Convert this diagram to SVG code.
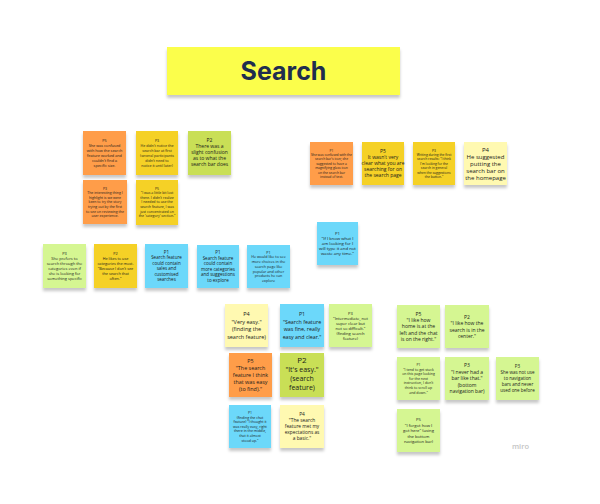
<svg xmlns="http://www.w3.org/2000/svg" width="600" height="504" viewBox="0 0 600 504">
<defs>
<filter id="sh" x="-20%" y="-20%" width="140%" height="160%">
<feDropShadow dx="0" dy="3" stdDeviation="1.6" flood-color="#000" flood-opacity="0.22"/>
</filter>
</defs>
<style>
text{font-family:"Open Sans","Liberation Sans",sans-serif;fill:#1a1a1a;text-anchor:middle}
.or{fill:#FF9D48}.ye{fill:#F5D128}.gr{fill:#C9DF56}.lg{fill:#D5F692}.bl{fill:#6CD8FA}.ly{fill:#FFF9B1}
.note rect{filter:url(#sh)}
</style>
<rect width="600" height="504" fill="#ffffff"/>
<g id="title">
<rect x="167" y="47" width="233" height="48" fill="#FBFE4C" filter="url(#sh)"/>
<text x="283.5" y="80" style="font-family:Inter,'Open Sans',sans-serif;font-weight:700;font-size:25px;fill:#1F2D4F">Search</text>
</g>
<g id="connectors"></g>

<g id="nA" class="note"><rect class="or" x="83" y="131" width="43" height="44"/>
<text font-size="3.8" x="104.5" y="141.5"><tspan x="104.5">P5</tspan><tspan x="104.5" dy="5">She was confused</tspan><tspan x="104.5" dy="5">with how the search</tspan><tspan x="104.5" dy="5">feature worked and</tspan><tspan x="104.5" dy="5">couldn't find a</tspan><tspan x="104.5" dy="5">specific size.</tspan></text></g>

<g id="nB" class="note"><rect class="ye" x="136" y="131" width="42" height="44"/>
<text font-size="3.6" x="157" y="141.5"><tspan x="157">P3</tspan><tspan x="157" dy="5">He didn't notice the</tspan><tspan x="157" dy="5">search bar at first</tspan><tspan x="157" dy="5">(several participants</tspan><tspan x="157" dy="5">didn't need to</tspan><tspan x="157" dy="5">notice it until later)</tspan></text></g>

<g id="nC" class="note"><rect class="gr" x="188" y="131" width="43" height="44"/>
<text font-size="5" x="209.5" y="142"><tspan x="209.5">P2</tspan><tspan x="209.5" dy="6">There was a</tspan><tspan x="209.5" dy="6">slight confusion</tspan><tspan x="209.5" dy="6">as to what the</tspan><tspan x="209.5" dy="6">search bar does</tspan></text></g>

<g id="nD" class="note"><rect class="or" x="83" y="180" width="44" height="44"/>
<text font-size="3.5" x="105" y="189.5"><tspan x="105">P3</tspan><tspan x="105" dy="4.6">The interesting thing I</tspan><tspan x="105" dy="4.6">highlight is we were</tspan><tspan x="105" dy="4.6">keen to try the story</tspan><tspan x="105" dy="4.6">trying out by the first</tspan><tspan x="105" dy="4.6">to see on reviewing the</tspan><tspan x="105" dy="4.6">user experience.</tspan></text></g>

<g id="nE" class="note"><rect class="ye" x="136" y="180" width="42" height="45"/>
<text font-size="3.5" x="157" y="189.5"><tspan x="157">P5</tspan><tspan x="157" dy="4.6">"I was a little bit lost</tspan><tspan x="157" dy="4.6">there. I didn't realize</tspan><tspan x="157" dy="4.6">I needed to use the</tspan><tspan x="157" dy="4.6">search feature, I was</tspan><tspan x="157" dy="4.6">just concentrated on</tspan><tspan x="157" dy="4.6">the 'category' section."</tspan></text></g>

<g id="nF" class="note"><rect class="or" x="310" y="142" width="43" height="43"/>
<text font-size="3.3" x="331.5" y="151.5"><tspan x="331.5">P1</tspan><tspan x="331.5" dy="4.4">She was confused with the</tspan><tspan x="331.5" dy="4.4">search bar's icon; she</tspan><tspan x="331.5" dy="4.4">suggested to have a</tspan><tspan x="331.5" dy="4.4">magnifying glass icon</tspan><tspan x="331.5" dy="4.4">on the search bar</tspan><tspan x="331.5" dy="4.4">instead of text.</tspan></text></g>

<g id="nG" class="note"><rect class="ye" x="362" y="142" width="42" height="43"/>
<text font-size="5" x="383" y="153"><tspan x="383">P5</tspan><tspan x="383" dy="6">It wasn't very</tspan><tspan x="383" dy="6">clear what you are</tspan><tspan x="383" dy="6">searching for on</tspan><tspan x="383" dy="6">the search page</tspan></text></g>

<g id="nH" class="note"><rect class="ye" x="413" y="142" width="42" height="43"/>
<text font-size="3.3" x="434" y="151.5"><tspan x="434">P3</tspan><tspan x="434" dy="4.4">Writing during the first</tspan><tspan x="434" dy="4.4">search results: "I think</tspan><tspan x="434" dy="4.4">I'm looking for the</tspan><tspan x="434" dy="4.4">search in general</tspan><tspan x="434" dy="4.4">when the suggestions</tspan><tspan x="434" dy="4.4">the button."</tspan></text></g>

<g id="nI" class="note"><rect class="ly" x="464" y="142" width="43" height="43"/>
<text font-size="6" x="485.5" y="151.6"><tspan x="485.5">P4</tspan><tspan x="485.5" dy="7">He suggested</tspan><tspan x="485.5" dy="7">putting the</tspan><tspan x="485.5" dy="7">search bar on</tspan><tspan x="485.5" dy="7">the homepage</tspan></text></g>

<g id="nJ" class="note"><rect class="bl" x="317" y="222" width="41" height="43"/>
<text font-size="4.3" x="337.5" y="234.6"><tspan x="337.5">P1</tspan><tspan x="337.5" dy="5.2">"If I know what I</tspan><tspan x="337.5" dy="5.2">am looking for I</tspan><tspan x="337.5" dy="5.2">will type it and not</tspan><tspan x="337.5" dy="5.2">waste any time."</tspan></text></g>

<g id="nK" class="note"><rect class="lg" x="43" y="244" width="43" height="44"/>
<text font-size="4" x="64.5" y="254.9"><tspan x="64.5">P3</tspan><tspan x="64.5" dy="5">She prefers to</tspan><tspan x="64.5" dy="5">search through the</tspan><tspan x="64.5" dy="5">categories even if</tspan><tspan x="64.5" dy="5">she is looking for</tspan><tspan x="64.5" dy="5">something specific</tspan></text></g>

<g id="nL" class="note"><rect class="ye" x="94" y="244" width="43" height="44"/>
<text font-size="3.8" x="115.5" y="254.9"><tspan x="115.5">P2</tspan><tspan x="115.5" dy="5">He likes to use</tspan><tspan x="115.5" dy="5">categories the most.</tspan><tspan x="115.5" dy="5">"Because I don't see</tspan><tspan x="115.5" dy="5">the search that</tspan><tspan x="115.5" dy="5">often."</tspan></text></g>

<g id="nM" class="note"><rect class="bl" x="145" y="244" width="43" height="44"/>
<text font-size="4.5" x="166.5" y="253.8"><tspan x="166.5">P1</tspan><tspan x="166.5" dy="5.5">Search feature</tspan><tspan x="166.5" dy="5.5">could contain</tspan><tspan x="166.5" dy="5.5">sales and</tspan><tspan x="166.5" dy="5.5">customised</tspan><tspan x="166.5" dy="5.5">searches</tspan></text></g>

<g id="nN" class="note"><rect class="bl" x="197" y="245" width="42" height="43"/>
<text font-size="4.5" x="218" y="254.3"><tspan x="218">P1</tspan><tspan x="218" dy="5.5">Search feature</tspan><tspan x="218" dy="5.5">could contain</tspan><tspan x="218" dy="5.5">more categories</tspan><tspan x="218" dy="5.5">and suggestions</tspan><tspan x="218" dy="5.5">to explore</tspan></text></g>

<g id="nO" class="note"><rect class="bl" x="247" y="245" width="43" height="43"/>
<text font-size="3.7" x="268.5" y="253.7"><tspan x="268.5">P1</tspan><tspan x="268.5" dy="4.7">He would like to see</tspan><tspan x="268.5" dy="4.7">more choices in the</tspan><tspan x="268.5" dy="4.7">search page like</tspan><tspan x="268.5" dy="4.7">popular and other</tspan><tspan x="268.5" dy="4.7">products he can</tspan><tspan x="268.5" dy="4.7">explore</tspan></text></g>

<g id="nP" class="note"><rect class="ly" x="225" y="304" width="43" height="43"/>
<text font-size="5.5" x="246.5" y="316.2"><tspan x="246.5">P4</tspan><tspan x="246.5" dy="7.5">"Very easy."</tspan><tspan x="246.5" dy="7.5">(finding the</tspan><tspan x="246.5" dy="7.5">search feature)</tspan></text></g>

<g id="nQ" class="note"><rect class="bl" x="280" y="304" width="44" height="43"/>
<text font-size="5.3" x="302" y="316.2"><tspan x="302">P1</tspan><tspan x="302" dy="7.5">"Search feature</tspan><tspan x="302" dy="7.5">was fine, really</tspan><tspan x="302" dy="7.5">easy and clear."</tspan></text></g>

<g id="nR" class="note"><rect class="lg" x="329" y="304" width="43" height="43"/>
<text font-size="4.1" x="350.5" y="314.5"><tspan x="350.5">P3</tspan><tspan x="350.5" dy="5">"Intermediate, not</tspan><tspan x="350.5" dy="5">super clear but</tspan><tspan x="350.5" dy="5">not so difficult."</tspan><tspan x="350.5" dy="5">(finding search</tspan><tspan x="350.5" dy="5">feature)</tspan></text></g>

<g id="nS" class="note"><rect class="or" x="229" y="353" width="43" height="44"/>
<text font-size="5.4" x="250.5" y="362.9"><tspan x="250.5">P5</tspan><tspan x="250.5" dy="7">"The search</tspan><tspan x="250.5" dy="7">feature I think</tspan><tspan x="250.5" dy="7">that was easy</tspan><tspan x="250.5" dy="7">(to find)."</tspan></text></g>

<g id="nT" class="note"><rect class="gr" x="280" y="353" width="44" height="44"/>
<text font-size="7" x="302" y="362.8"><tspan x="302" font-size="8">P2</tspan><tspan x="302" dy="9">"It's easy."</tspan><tspan x="302" dy="9">(search</tspan><tspan x="302" dy="9">feature)</tspan></text></g>

<g id="nU" class="note"><rect class="bl" x="229" y="405" width="42" height="43"/>
<text font-size="3.5" x="250" y="414"><tspan x="250">P1</tspan><tspan x="250" dy="4.6">(finding the chat</tspan><tspan x="250" dy="4.6">feature) "I thought it</tspan><tspan x="250" dy="4.6">was really easy, right</tspan><tspan x="250" dy="4.6">there in the middle,</tspan><tspan x="250" dy="4.6">that it almost</tspan><tspan x="250" dy="4.6">stood up."</tspan></text></g>

<g id="nV" class="note"><rect class="ly" x="280" y="405" width="44" height="43"/>
<text font-size="4.8" x="302" y="416.2"><tspan x="302">P4</tspan><tspan x="302" dy="6">"The search</tspan><tspan x="302" dy="6">feature met my</tspan><tspan x="302" dy="6">expectations as</tspan><tspan x="302" dy="6">a basic."</tspan></text></g>

<g id="nW" class="note"><rect class="lg" x="397" y="305" width="43" height="43"/>
<text font-size="5" x="418.5" y="315.6"><tspan x="418.5">P5</tspan><tspan x="418.5" dy="6.3">"I like how</tspan><tspan x="418.5" dy="6.3">home is at the</tspan><tspan x="418.5" dy="6.3">left and the chat</tspan><tspan x="418.5" dy="6.3">is on the right."</tspan></text></g>

<g id="nX" class="note"><rect class="lg" x="445" y="305" width="44" height="43"/>
<text font-size="5" x="467" y="318.5"><tspan x="467">P2</tspan><tspan x="467" dy="6.5">"I like how the</tspan><tspan x="467" dy="6.5">search is in the</tspan><tspan x="467" dy="6.5">center."</tspan></text></g>

<g id="nY" class="note"><rect class="lg" x="397" y="357" width="43" height="43"/>
<text font-size="3.5" x="418.5" y="366"><tspan x="418.5">P1</tspan><tspan x="418.5" dy="4.6">"I tend to get stuck</tspan><tspan x="418.5" dy="4.6">on this page looking</tspan><tspan x="418.5" dy="4.6">for the next</tspan><tspan x="418.5" dy="4.6">instruction, I don't</tspan><tspan x="418.5" dy="4.6">think to scroll up</tspan><tspan x="418.5" dy="4.6">and down."</tspan></text></g>

<g id="nZ" class="note"><rect class="lg" x="445" y="357" width="44" height="43"/>
<text font-size="5" x="467" y="367.2"><tspan x="467">P3</tspan><tspan x="467" dy="6.5">"I never had a</tspan><tspan x="467" dy="6.5">bar like that."</tspan><tspan x="467" dy="6.5">(bottom</tspan><tspan x="467" dy="6.5">navigation bar)</tspan></text></g>

<g id="nAA" class="note"><rect class="lg" x="496" y="357" width="43" height="43"/>
<text font-size="4.5" x="517.5" y="368.1"><tspan x="517.5">P3</tspan><tspan x="517.5" dy="6">She was not use</tspan><tspan x="517.5" dy="6">to navigation</tspan><tspan x="517.5" dy="6">bars and never</tspan><tspan x="517.5" dy="6">used one before</tspan></text></g>

<g id="nAB" class="note"><rect class="lg" x="397" y="409" width="43" height="43"/>
<text font-size="4.2" x="418.5" y="421"><tspan x="418.5">P5</tspan><tspan x="418.5" dy="5.5">"I forgot how I</tspan><tspan x="418.5" dy="5.5">got here" (using</tspan><tspan x="418.5" dy="5.5">the bottom</tspan><tspan x="418.5" dy="5.5">navigation bar)</tspan></text></g>

<text x="520.5" y="449" style="font-family:'Open Sans',sans-serif;font-size:7.5px;fill:#c4c4c4;font-weight:600">miro</text>
</svg>
